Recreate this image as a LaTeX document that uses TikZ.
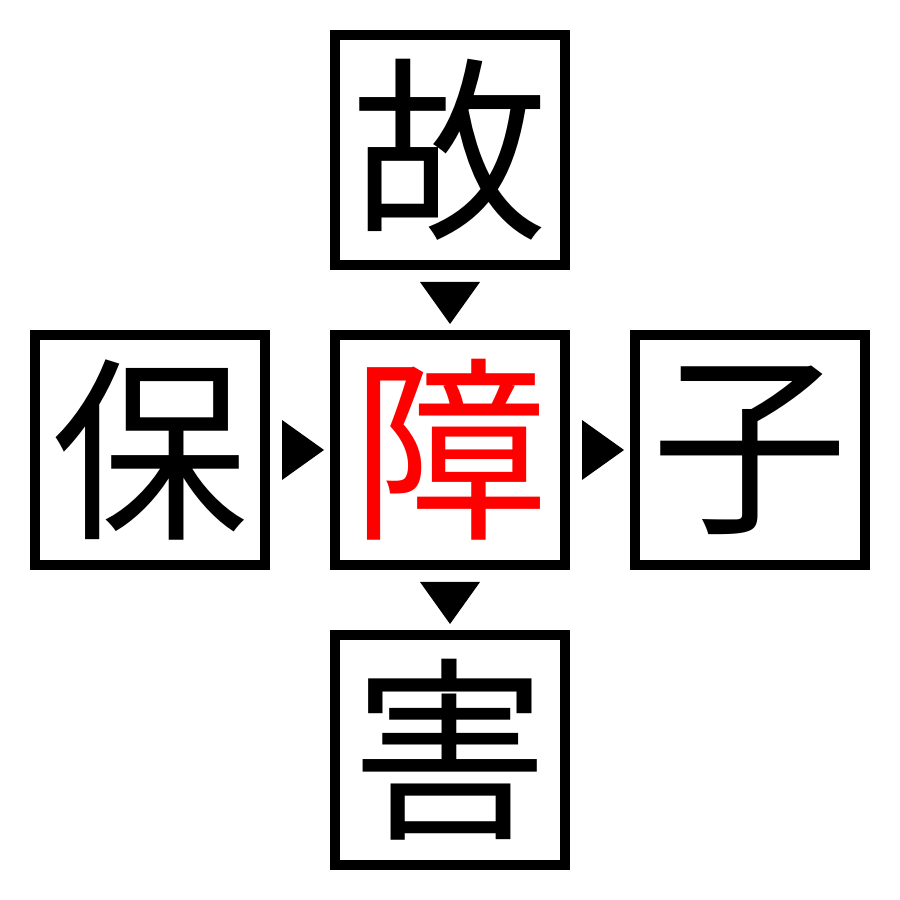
\documentclass[tikz,border=0pt]{standalone}
\usepackage{fontspec}
\newfontfamily\cjk{Noto Sans CJK JP}
\usetikzlibrary{calc}
\tikzset{
	kanji/.style={draw=black, line width=1mm, minimum size=23mm, inner sep=0pt, font=\cjk\fontsize{56}{56}\selectfont},
}
\begin{document}
\begin{tikzpicture}
\useasboundingbox (0,0) rectangle (9,9);
\node[kanji] (top) at (4.5,7.5) {故};
\node[kanji, text=red] (mid) at (4.5,4.5) {障};
\node[kanji] (left) at (1.5,4.5) {保};
\node[kanji] (right) at (7.5,4.5) {子};
\node[kanji] (bottom) at (4.5,1.5) {害};
% vertical markers
\foreach \a/\b in {top/mid, mid/bottom}{
	\fill[black] ($(\a.south)+(-0.3,-0.12)$) -- ++(0.6,0) -- ($(\b.north)+(0,0.06)$) -- cycle;
}
% horizontal markers
\foreach \a/\b in {left/mid, mid/right}{
	\fill[black] ($(\a.east)+(0.12,0.3)$) -- ++(0,-0.6) -- ($(\b.west)+(-0.06,0)$) -- cycle;
}
\end{tikzpicture}
\end{document}
